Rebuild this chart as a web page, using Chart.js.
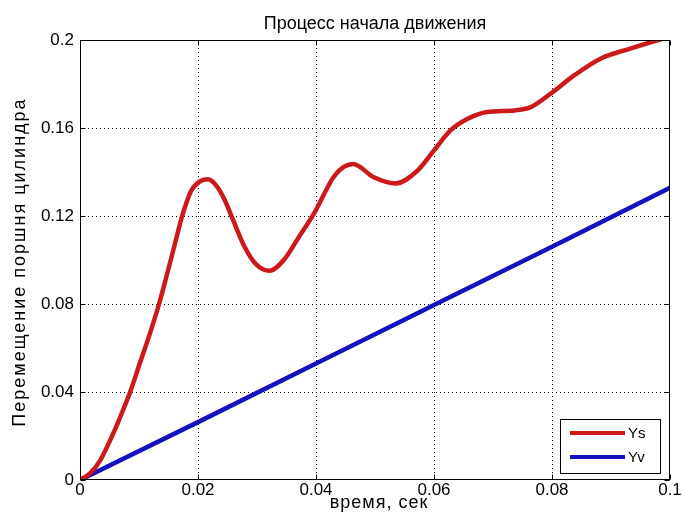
<!DOCTYPE html>
<html lang="ru">
<head>
<meta charset="utf-8">
<title>Процесс начала движения</title>
<script src="https://cdn.jsdelivr.net/npm/chart.js@4.4.1/dist/chart.umd.min.js"></script>
<style>
    html, body { margin: 0; padding: 0; background: #fff; }
    #wrap { width: 683px; height: 526px; position: relative; }
</style>
</head>
<body>
<div id="wrap"><canvas id="chart"></canvas></div>
<script>
// Данные
const timeYs = [0, 0.0017, 0.0034, 0.0051, 0.0068, 0.0085, 0.0102, 0.0119, 0.0134, 0.0148, 0.0162, 0.0173,
    0.0188, 0.0202, 0.0217, 0.0231, 0.0244, 0.0261, 0.0278, 0.0298, 0.0321, 0.0347, 0.0369, 0.0398, 0.0432,
    0.0463, 0.0498, 0.0535, 0.0572, 0.060, 0.0628, 0.0657, 0.069, 0.0736, 0.0764, 0.0798, 0.0838, 0.0883,
    0.0934, 0.098, 0.1];
const valuesYs = [0, 0.003, 0.0088, 0.018, 0.0285, 0.040, 0.0535, 0.067, 0.080, 0.094, 0.1085, 0.1198,
    0.1312, 0.1355, 0.1367, 0.1338, 0.1279, 0.1172, 0.1065, 0.0982, 0.0951, 0.1005, 0.1096, 0.1218, 0.1385,
    0.1436, 0.1376, 0.1348, 0.1406, 0.1498, 0.1589, 0.1642, 0.1673, 0.168, 0.1695, 0.1757, 0.184, 0.1916,
    0.1962, 0.2, 0.2015];
const timeYv = [0, 0.02, 0.04, 0.06, 0.08, 0.1];
const valuesYv = [0, 0.0263, 0.053, 0.0795, 0.106, 0.1328];

const xTicks = [0, 0.02, 0.04, 0.06, 0.08, 0.1];
const xTickLabels = ['0', '0.02', '0.04', '0.06', '0.08', '0.1'];
const yTicks = [0, 0.04, 0.08, 0.12, 0.16, 0.2];
const yTickLabels = ['0', '0.04', '0.08', '0.12', '0.16', '0.2'];

const seriesNames = ['Ys', 'Yv'];
const seriesColors = ['#cc1a1a', '#1212bf'];

const titleText = 'Процесс начала движения';
const xTitle = 'время, сек';
const yTitle = 'Перемещение поршня цилиндра';

const FONT = "'Liberation Sans', Arial, sans-serif";

// рамка, засечки внутрь, подписи и легенда в стиле MATLAB
const matlabFrame = {
    id: 'matlabFrame',
    afterDraw(chart) {
        const { ctx, chartArea: a, scales } = chart;
        ctx.save();
        ctx.strokeStyle = '#000';
        ctx.lineWidth = 1;
        const l = Math.round(a.left) + 0.5, r = Math.round(a.right) - 0.5;
        const t = Math.round(a.top) + 0.5, b = Math.round(a.bottom) - 0.5;
        ctx.strokeRect(l, t, r - l, b - t);

        ctx.beginPath();
        xTicks.forEach(v => {
            const x = Math.round(scales.x.getPixelForValue(v)) + 0.5;
            ctx.moveTo(x, b); ctx.lineTo(x, b - 5);
            ctx.moveTo(x, t); ctx.lineTo(x, t + 5);
        });
        yTicks.forEach(v => {
            const y = Math.round(scales.y.getPixelForValue(v)) + 0.5;
            ctx.moveTo(l, y); ctx.lineTo(l + 5, y);
            ctx.moveTo(r, y); ctx.lineTo(r - 5, y);
        });
        ctx.stroke();

        // заголовок и подписи осей
        const cx = (a.left + a.right) / 2;
        ctx.fillStyle = '#000';
        ctx.textAlign = 'center';
        ctx.textBaseline = 'alphabetic';
        ctx.font = '18px ' + FONT;
        ctx.fillText(titleText, cx, 29);

        ctx.letterSpacing = '1px';
        ctx.fillText(xTitle, cx + 4, 508);

        ctx.save();
        ctx.translate(25, (a.top + a.bottom) / 2 + 2);
        ctx.rotate(-Math.PI / 2);
        ctx.letterSpacing = '2px';
        ctx.fillText(yTitle, 0, 0);
        ctx.restore();
        ctx.letterSpacing = '0px';

        // легенда
        const bx = 560, by = 419, bw = 100, bh = 54;
        ctx.fillStyle = '#fff';
        ctx.fillRect(bx, by, bw, bh);
        ctx.strokeRect(bx + 0.5, by + 0.5, bw, bh);
        ctx.font = '15px ' + FONT;
        ctx.textAlign = 'left';
        ctx.textBaseline = 'middle';
        seriesNames.forEach((name, i) => {
            const y = by + 14 + i * 24;
            ctx.strokeStyle = seriesColors[i];
            ctx.lineWidth = 4;
            ctx.beginPath();
            ctx.moveTo(bx + 10, y);
            ctx.lineTo(bx + 65, y);
            ctx.stroke();
            ctx.fillStyle = '#000';
            ctx.fillText(name, bx + 68, y + 1);
        });
        ctx.restore();
    }
};

const toPoints = (xs, ys) => xs.map((x, i) => ({ x, y: ys[i] }));

const gridColor = (ctx) => {
    const last = ctx.scale.ticks.length - 1;
    return (ctx.index === 0 || ctx.index === last) ? 'rgba(0,0,0,0)' : '#000';
};

new Chart(document.getElementById('chart'), {
    type: 'line',
    data: {
        datasets: [
            {
                label: seriesNames[0],
                data: toPoints(timeYs, valuesYs),
                borderColor: seriesColors[0],
                borderWidth: 4.5,
                pointRadius: 0,
                cubicInterpolationMode: 'monotone',
                clip: 0
            },
            {
                label: seriesNames[1],
                data: toPoints(timeYv, valuesYv),
                borderColor: seriesColors[1],
                borderWidth: 4.5,
                pointRadius: 0,
                clip: 0
            }
        ]
    },
    options: {
        responsive: true,
        maintainAspectRatio: false,
        animation: false,
        layout: { padding: { top: 40, right: 13, left: 0, bottom: 0 } },
        plugins: {
            legend: { display: false },
            title: { display: false },
            tooltip: { enabled: false }
        },
        scales: {
            x: {
                type: 'linear',
                min: 0,
                max: 0.1,
                afterBuildTicks: s => { s.ticks = xTicks.map(v => ({ value: v })); },
                afterFit: s => { s.height = 46; },
                ticks: {
                    color: '#000',
                    font: { family: FONT, size: 17 },
                    padding: 0,
                    maxRotation: 0,
                    callback: (v, i) => xTickLabels[i]
                },
                grid: { color: gridColor, lineWidth: 1, drawTicks: false },
                border: { display: false, dash: [1, 3] }
            },
            y: {
                type: 'linear',
                min: 0,
                max: 0.2,
                afterBuildTicks: s => { s.ticks = yTicks.map(v => ({ value: v })); },
                afterFit: s => { s.width = 80; },
                ticks: {
                    color: '#000',
                    font: { family: FONT, size: 17 },
                    padding: 6,
                    callback: (v, i) => yTickLabels[i]
                },
                grid: { color: gridColor, lineWidth: 1, drawTicks: false },
                border: { display: false, dash: [1, 3] }
            }
        }
    },
    plugins: [matlabFrame]
});
</script>
</body>
</html>
